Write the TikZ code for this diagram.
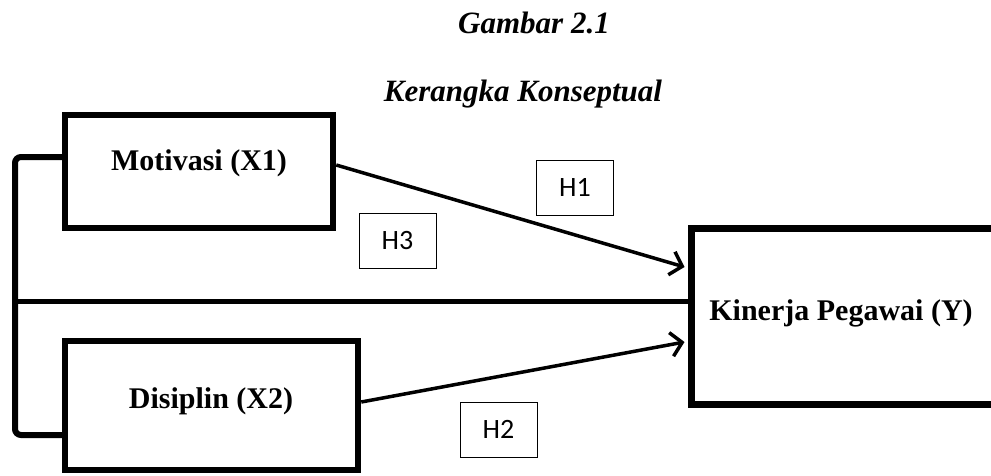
\documentclass[tikz,border=0pt]{standalone}
\usepackage{fontspec}
\setmainfont{Liberation Serif}
\newfontfamily\hfont{Carlito}
\usetikzlibrary{arrows.meta,calc}
\begin{document}
\begin{tikzpicture}[x=1pt,y=-1pt,
  varbox/.style={draw,line width=6.5pt,inner sep=0pt,minimum width=#1},
  lbl/.style={font=\fontsize{30}{32}\selectfont\bfseries,anchor=base,inner sep=0pt},
  ttl/.style={font=\fontsize{31}{34}\selectfont\bfseries\itshape,anchor=base,inner sep=0pt},
  hbox/.style={draw,line width=1pt,minimum width=77pt,minimum height=55pt,inner sep=0pt,font=\hfont\fontsize{28}{30}\selectfont},
  arr/.style={line width=3.5pt,-{Straight Barb[length=11pt,width=24pt,line width=3.5pt]}},
  link/.style={line width=5pt},
  bracket/.style={line width=6pt,rounded corners=6pt}]
\useasboundingbox (0,0) rectangle (991,475);
\clip (0,0) rectangle (991,475);
% titles
\node[ttl] (t1) at (534,33) {Gambar 2.1};
\node[ttl] (t2) at (523,101) {Kerangka Konseptual};
% boxes
\node[varbox=268pt,minimum height=113pt] (M) at (199,171.5) {};
\node[varbox=293pt,minimum height=129pt] (D) at (211.5,405.5) {};
\node[varbox=309pt,minimum height=176pt,line width=7pt] (Y) at (845.5,316) {};
\node[lbl] (Mt) at (199,170) {Motivasi (X1)};
\node[lbl] (Dt) at (211,408) {Disiplin (X2)};
\node[lbl] (Yt) at (841,320) {Kinerja Pegawai (Y)};
% bracket and H3 line
\coordinate (bt) at (15,157);
\coordinate (bb) at (15,435);
\coordinate (hl) at (15,301);
\draw[bracket] (M.west |- bt) -- (bt) -- (bb) -- (D.west |- bb);
\draw[link] (hl) -- (hl -| Y.west);
% arrows
\draw[arr] ($(M.east)+(0,-6.5)$) -- ($(Y.west)+(-3,-49)$);
\draw[arr] ($(D.east)+(0,-3.5)$) -- ($(Y.west)+(-3,26)$);
% hypothesis labels
\node[hbox] (H1) at (575,187.5) {H1};
\node[hbox] (H3) at (397.5,241) {H3};
\node[hbox] (H2) at (498.5,429.5) {H2};
\end{tikzpicture}
\end{document}
